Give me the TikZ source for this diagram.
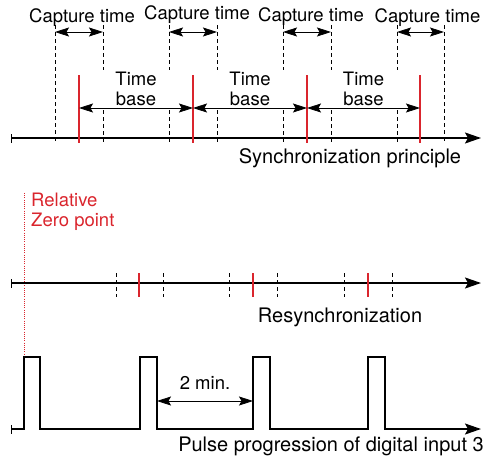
\documentclass[tikz,border=0pt]{standalone}
\usepackage{fontspec}
\setmainfont{TeX Gyre Heros}
\usetikzlibrary{arrows.meta,calc}
\definecolor{sred}{RGB}{218,37,45}
\begin{document}
\begin{tikzpicture}[x=1pt,y=-1pt,
  axis/.style={line width=1.5pt,line join=miter,{Bar[width=9pt,line width=1pt]}-{Stealth[length=16pt,width=11pt,inset=3pt]}},
  dline/.style={line width=0.9pt,dash pattern=on 4pt off 3pt},
  rline/.style={sred,line width=1.2pt},
  dim/.style={line width=0.8pt,{Stealth[length=14pt,width=9pt,inset=2.5pt]}-{Stealth[length=14pt,width=9pt,inset=2.5pt]}},
  lbl/.style={font=\fontsize{18.5}{20}\selectfont,inner sep=0pt},
  captxt/.style={font=\fontsize{20}{22}\selectfont,inner sep=0pt}
]
\useasboundingbox (0,0) rectangle (489,458);

% ---------- top: synchronization principle ----------
\coordinate (T0) at (11,138);
\coordinate (T1) at (481,138);
\draw[axis] (T0) -- (T1);

% dashed capture limits
\foreach \n/\x in {1/55,2/103,3/169,4/217,5/283,6/331,7/397,8/444}{
  \coordinate (d\n) at (\x,32);
  \coordinate (dt\n) at (\x,25);
  \coordinate (db\n) at (\x,143);
}
\draw[dline] (dt1) -- (db1);
\draw[dline] (dt8) -- (db8);
\foreach \n in {2,...,7}{
  \draw[dline] (dt\n) -- ([yshift=-45pt]dt\n);
  \draw[dline] ([yshift=-85pt]dt\n) -- (db\n);
}

% red time base marks
\foreach \n/\x in {1/79,2/193,3/307,4/420}{
  \coordinate (r\n) at (\x,108);
  \draw[rline] (\x,75) -- (\x,143);
}

% time base arrows and labels
\draw[dim] (r1) -- (r2);
\draw[dim] (r2) -- (r3);
\draw[dim] (r3) -- (r4);
\node[lbl,align=center] (tb1) at ($(r1)!0.5!(r2)+(0,-19)$) {Time\\base};
\node[lbl,align=center] (tb2) at ($(r2)!0.5!(r3)+(0,-19)$) {Time\\base};
\node[lbl,align=center] (tb3) at ($(r3)!0.5!(r4)+(0,-19)$) {Time\\base};

% capture time arrows and labels
\draw[dim] (d1) -- (d2);
\draw[dim] (d3) -- (d4);
\draw[dim] (d5) -- (d6);
\draw[dim] (d7) -- (d8);
\node[lbl] (ct1) at ($(d1)!0.5!(d2)+(3,-14)$) {Capture time};
\node[lbl] (ct2) at ($(d3)!0.5!(d4)+(4,-17)$) {Capture time};
\node[lbl] (ct3) at ($(d5)!0.5!(d6)+(4,-15)$) {Capture time};
\node[lbl] (ct4) at ($(d7)!0.5!(d8)+(7,-14)$) {Capture time};

\node[captxt] (sp) at (350,158) {Synchronization principle};

% ---------- middle: resynchronization ----------
\coordinate (Z0) at (24,193);
\coordinate (Z1) at (24,355);
\draw[sred,line width=0.8pt,dash pattern=on 1pt off 1.2pt] (Z0) -- (Z1);
\node[lbl,text=sred,align=left,anchor=north west] (rz) at (31,193) {Relative\\Zero point};

\coordinate (M0) at (11,283);
\coordinate (M1) at (481,283);
\draw[axis] (M0) -- (M1);
\foreach \x in {116,163,229,277,344,392}{
  \draw[dline] (\x,273) -- (\x,297);
}
\foreach \x in {139,253,368}{
  \draw[rline] (\x,273) -- (\x,297);
}
\node[captxt] (rs) at (340,317) {Resynchronization};

% ---------- bottom: pulse progression ----------
\coordinate (P0) at (11,429);
\coordinate (P1) at (481,429);
\coordinate (e1) at (157,401);
\coordinate (e2) at (253,401);
\draw[axis] (P0) -- (24,429) -- (24,357) -- (40,357) -- (40,429)
  -- (140,429) -- (140,357) -- (157,357) -- (157,429)
  -- (253,429) -- (253,357) -- (270,357) -- (270,429)
  -- (368,429) -- (368,357) -- (385,357) -- (385,429) -- (P1);
\draw[dim] (e1) -- (e2);
\node[lbl] (tm) at ($(e1)!0.5!(e2)+(0,-18)$) {2 min.};
\node[captxt] (pp) at (331,446) {Pulse progression of digital input 3};
\end{tikzpicture}
\end{document}
